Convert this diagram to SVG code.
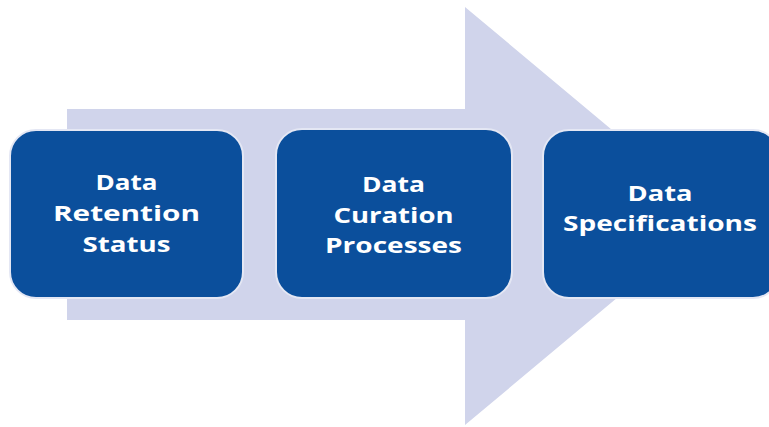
<svg xmlns="http://www.w3.org/2000/svg" width="769" height="427" viewBox="0 0 769 427">
  <style>
    .box { fill: #0B4F9C; stroke: #E4E7F4; stroke-width: 2; }
    .lbl { fill: #FFFFFF; font-family: "Open Sans", "Liberation Sans", sans-serif; font-weight: bold; font-size: 22px; text-anchor: middle; }
  </style>
  <rect width="769" height="427" fill="#FFFFFF"/>
  <g id="connectors">
    <path id="big-arrow" d="M67,109 L465,109 L465,7 L715,216 L465,425 L465,320 L67,320 Z" fill="#D0D4EB"/>
  </g>
  <g id="node-retention">
    <rect class="box" x="10" y="130" width="233" height="168" rx="26"/>
    <text class="lbl" x="126.5" y="190" textLength="62" lengthAdjust="spacingAndGlyphs">Data</text>
    <text class="lbl" x="126.5" y="221" textLength="147" lengthAdjust="spacingAndGlyphs">Retention</text>
    <text class="lbl" x="126.5" y="252" textLength="88" lengthAdjust="spacingAndGlyphs">Status</text>
  </g>
  <g id="node-curation">
    <rect class="box" x="276" y="129" width="236" height="169" rx="26"/>
    <text class="lbl" x="393.5" y="192" textLength="63" lengthAdjust="spacingAndGlyphs">Data</text>
    <text class="lbl" x="393.5" y="223" textLength="120" lengthAdjust="spacingAndGlyphs">Curation</text>
    <text class="lbl" x="393.5" y="253" textLength="137" lengthAdjust="spacingAndGlyphs">Processes</text>
  </g>
  <g id="node-specifications">
    <rect class="box" x="543" y="130" width="236" height="168" rx="26"/>
    <text class="lbl" x="660" y="201" textLength="65" lengthAdjust="spacingAndGlyphs">Data</text>
    <text class="lbl" x="660" y="231" textLength="194" lengthAdjust="spacingAndGlyphs">Specifications</text>
  </g>
</svg>
